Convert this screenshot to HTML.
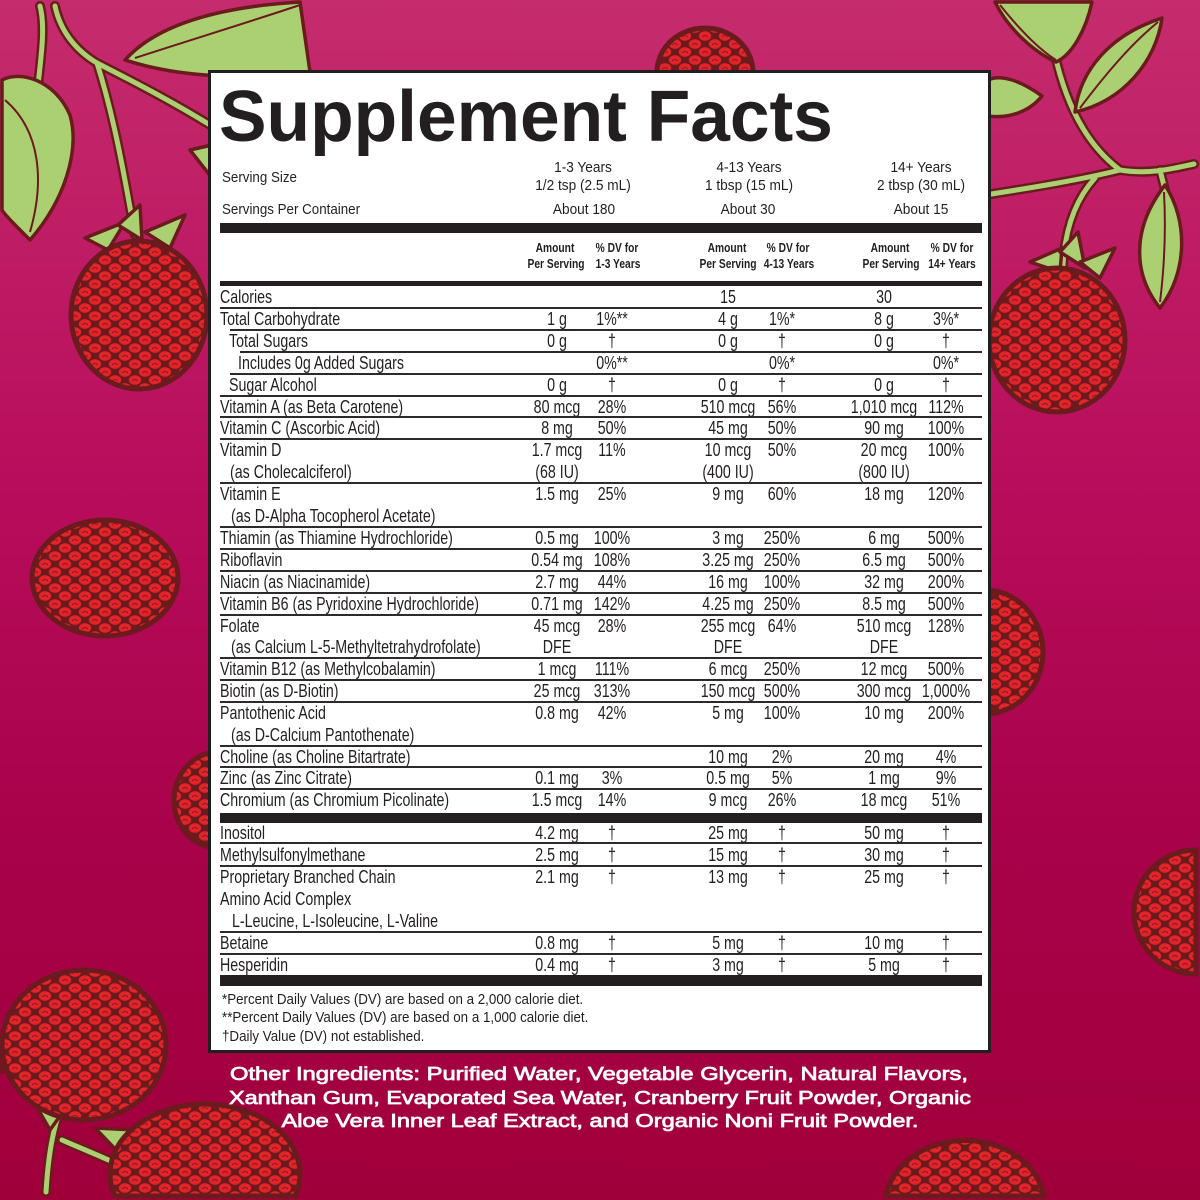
<!DOCTYPE html>
<html><head><meta charset="utf-8">
<style>
html,body{margin:0;padding:0;width:1200px;height:1200px;overflow:hidden;}
#wrap{position:relative;width:1200px;height:1200px;overflow:hidden;background:#b30a57;}
#bgsvg{position:absolute;left:0;top:0;overflow:hidden;display:block;}
#panel{position:absolute;left:208px;top:70px;width:783px;height:983px;box-sizing:border-box;border:3px solid #231f20;background:#fff;}
.t{position:absolute;font-family:"Liberation Sans",Arial,sans-serif;font-size:18px;line-height:22px;color:#231f20;white-space:nowrap;}
.L{transform-origin:0 50%;transform:scaleX(.79);}
.C{width:160px;margin-left:-80px;text-align:center;transform:scaleX(.79);}
.a1{left:557px}.d1{left:612px}.a2{left:728px}.d2{left:782px}.a3{left:884px}.d3{left:946px}
.h{font-size:15px;line-height:18px;}
.hL{transform-origin:0 50%;transform:scaleX(.89);}
.hC{width:200px;margin-left:-100px;text-align:center;transform:scaleX(.91);}
.b{font-weight:bold;font-size:12.5px;line-height:15px;width:120px;margin-left:-60px;text-align:center;transform:scaleX(.82);}
.ln{position:absolute;height:2px;background:#2e2a2b;}
.bar{position:absolute;left:220px;width:762px;background:#231f20;}
.title{position:absolute;left:219px;top:81px;font-family:"Liberation Sans",Arial,sans-serif;font-weight:bold;font-size:72px;line-height:72px;color:#231f20;white-space:nowrap;transform-origin:0 50%;transform:scaleX(.99);}
</style></head>
<body>
<div id="wrap">
<svg id="bgsvg" width="1200" height="1200" viewBox="0 0 1200 1200" xmlns="http://www.w3.org/2000/svg">
<defs>
<linearGradient id="bg" x1="0" y1="0" x2="0" y2="1">
<stop offset="0" stop-color="#c52c6d"/>
<stop offset="0.4" stop-color="#b80d5c"/>
<stop offset="0.7" stop-color="#a8024a"/>
<stop offset="1" stop-color="#a0003a"/>
</linearGradient>
<pattern id="dr" width="20" height="16" patternUnits="userSpaceOnUse">
<rect width="20" height="16" fill="#6e1a1d"/>
<g fill="#e3242b" stroke="#6e1a1d" stroke-width="1.3">
<ellipse cx="5" cy="4" rx="6.8" ry="5.4"/>
<ellipse cx="25" cy="4" rx="6.8" ry="5.4"/>
<ellipse cx="-15" cy="4" rx="6.8" ry="5.4"/>
<ellipse cx="15" cy="12" rx="6.8" ry="5.4"/>
<ellipse cx="-5" cy="12" rx="6.8" ry="5.4"/>
<ellipse cx="15" cy="-4" rx="6.8" ry="5.4"/>
<ellipse cx="-5" cy="-4" rx="6.8" ry="5.4"/>
<ellipse cx="5" cy="20" rx="6.8" ry="5.4"/>
<ellipse cx="25" cy="20" rx="6.8" ry="5.4"/>
</g>
<path d="M2 5 Q5 2 8 5 M12 13 Q15 10 18 13" stroke="#8a1a1e" stroke-width="1" fill="none"/>
</pattern>
</defs>
<rect width="1200" height="1200" fill="url(#bg)"/>

<g stroke="#6b1b1d" stroke-width="10" fill="none" stroke-linecap="round">
<path d="M55 6 C60 30 75 50 97 63 C115 120 125 180 135 235"/>
<path d="M97 63 C130 80 170 100 215 128"/>
<path d="M40 6 C45 25 42 50 38 85"/>
<path d="M1050 30 C1060 90 1080 140 1120 170 C1150 175 1175 168 1194 164"/>
<path d="M1120 170 C1080 180 1030 188 985 195"/>
<path d="M1095 178 C1075 200 1065 230 1063 265"/>
<path d="M1160 170 L1165 190"/>
<path d="M46 1192 C48 1160 52 1130 62 1105"/>
<path d="M62 1140 C85 1150 110 1160 130 1170"/>
</g>
<g stroke="#abd072" stroke-width="5" fill="none" stroke-linecap="round">
<path d="M55 6 C60 30 75 50 97 63 C115 120 125 180 135 235"/>
<path d="M97 63 C130 80 170 100 215 128"/>
<path d="M40 6 C45 25 42 50 38 85"/>
<path d="M1050 30 C1060 90 1080 140 1120 170 C1150 175 1175 168 1194 164"/>
<path d="M1120 170 C1080 180 1030 188 985 195"/>
<path d="M1095 178 C1075 200 1065 230 1063 265"/>
<path d="M1160 170 L1165 190"/>
<path d="M46 1192 C48 1160 52 1130 62 1105"/>
<path d="M62 1140 C85 1150 110 1160 130 1170"/>
</g>

<g fill="#abd072" stroke="#6b1b1d" stroke-width="3.5" stroke-linejoin="round">
<path d="M2 80 C20 70 55 80 70 115 C80 150 65 200 30 240 C15 225 5 215 2 210 Z"/>
<path d="M125 60 C150 32 200 8 300 2 L310 72 C250 80 180 78 125 60 Z"/>
<path d="M995 2 L1092 2 C1086 30 1072 55 1056 62 C1030 50 1006 25 995 2 Z"/>
<path d="M1075 112 C1080 70 1110 35 1162 18 C1156 62 1122 102 1075 112 Z"/>
<path d="M1042 96 C1020 80 1000 74 988 80 L988 116 C1010 119 1030 111 1042 96 Z"/>
<path d="M1165 185 C1188 220 1188 272 1160 308 C1134 276 1130 230 1165 185 Z"/>
<path d="M190 150 L212 145 L212 178 Z"/>
<path d="M85 238 L125 222 L108 250 Z"/>
<path d="M118 225 L140 205 L142 240 Z"/>
<path d="M145 232 L185 215 L170 248 Z"/>
<path d="M1030 262 L1062 248 L1060 272 Z"/>
<path d="M1060 252 L1078 232 L1085 268 Z"/>
<path d="M1080 262 L1115 248 L1100 278 Z"/>
<path d="M2 1035 L48 1058 L2 1072 Z"/>
<path d="M30 1095 L70 1102 L50 1130 Z"/>
<path d="M95 1128 L135 1130 L118 1152 Z"/>
</g>
<g stroke="#6b1b1d" stroke-width="2" fill="none">
<path d="M5 100 C40 130 45 180 30 232"/>
<path d="M135 58 C190 40 240 25 300 5"/>
<path d="M1080 108 C1105 75 1130 45 1158 22"/>
<path d="M1164 192 C1166 230 1164 270 1160 302"/>
<path d="M1000 5 C1020 30 1040 50 1056 60"/>
</g>

<g fill="url(#dr)" stroke="#6b1b1d" stroke-width="5">
<ellipse cx="139" cy="315" rx="68" ry="74"/>
<ellipse cx="705" cy="72" rx="48" ry="44"/>
<ellipse cx="105" cy="578" rx="73" ry="58"/>
<ellipse cx="218" cy="800" rx="44" ry="48"/>
<ellipse cx="84" cy="1045" rx="82" ry="75"/>
<path d="M114.8 1196 A95 70 0 1 1 295.2 1196 Z"/>
<ellipse cx="1057" cy="340" rx="68" ry="72"/>
<ellipse cx="985" cy="652" rx="58" ry="62"/>
<path d="M1196 850 A62 62 0 1 0 1196 974 Z"/>
<path d="M886 1196 A80 66 0 0 1 1044 1196 Z"/>
</g>

<g font-family="'Liberation Sans', Arial, sans-serif" font-weight="normal" font-size="18" fill="#ffffff" stroke="#ffffff" stroke-width="0.7" text-anchor="middle">
<text x="599" y="1080" textLength="738" lengthAdjust="spacingAndGlyphs">Other Ingredients: Purified Water, Vegetable Glycerin, Natural Flavors,</text>
<text x="600" y="1104" textLength="742" lengthAdjust="spacingAndGlyphs">Xanthan Gum, Evaporated Sea Water, Cranberry Fruit Powder, Organic</text>
<text x="600" y="1127" textLength="637" lengthAdjust="spacingAndGlyphs">Aloe Vera Inner Leaf Extract, and Organic Noni Fruit Powder.</text>
</g>
</svg>

<div id="panel"></div>
<div class="title">Supplement Facts</div>

<div class="t h hL" style="left:222px;top:169px">Serving Size</div>
<div class="t h hL" style="left:222px;top:201px">Servings Per Container</div>
<div class="t h hC" style="left:583px;top:159px">1-3 Years</div>
<div class="t h hC" style="left:583px;top:177px">1/2 tsp (2.5 mL)</div>
<div class="t h hC" style="left:584px;top:201px">About 180</div>
<div class="t h hC" style="left:749px;top:159px">4-13 Years</div>
<div class="t h hC" style="left:749px;top:177px">1 tbsp (15 mL)</div>
<div class="t h hC" style="left:748px;top:201px">About 30</div>
<div class="t h hC" style="left:921px;top:159px">14+ Years</div>
<div class="t h hC" style="left:921px;top:177px">2 tbsp (30 mL)</div>
<div class="t h hC" style="left:921px;top:201px">About 15</div>

<div class="bar" style="top:223px;height:10px"></div>

<div class="t b" style="left:555px;top:241px">Amount</div>
<div class="t b" style="left:556px;top:257px">Per Serving</div>
<div class="t b" style="left:617px;top:241px">% DV for</div>
<div class="t b" style="left:618px;top:257px">1-3 Years</div>
<div class="t b" style="left:727px;top:241px">Amount</div>
<div class="t b" style="left:728px;top:257px">Per Serving</div>
<div class="t b" style="left:788px;top:241px">% DV for</div>
<div class="t b" style="left:789px;top:257px">4-13 Years</div>
<div class="t b" style="left:890px;top:241px">Amount</div>
<div class="t b" style="left:891px;top:257px">Per Serving</div>
<div class="t b" style="left:952px;top:241px">% DV for</div>
<div class="t b" style="left:952px;top:257px">14+ Years</div>

<div class="bar" style="top:281px;height:5px"></div>

<div class="ln" style="top:307px;left:220px;width:762px"></div>
<div class="ln" style="top:329px;left:230px;width:752px"></div>
<div class="ln" style="top:351px;left:240px;width:742px"></div>
<div class="ln" style="top:373px;left:230px;width:752px"></div>
<div class="ln" style="top:395px;left:220px;width:762px"></div>
<div class="ln" style="top:416px;left:220px;width:762px"></div>
<div class="ln" style="top:438px;left:220px;width:762px"></div>
<div class="ln" style="top:482px;left:220px;width:762px"></div>
<div class="ln" style="top:526px;left:220px;width:762px"></div>
<div class="ln" style="top:548px;left:220px;width:762px"></div>
<div class="ln" style="top:570px;left:220px;width:762px"></div>
<div class="ln" style="top:592px;left:220px;width:762px"></div>
<div class="ln" style="top:614px;left:220px;width:762px"></div>
<div class="ln" style="top:657px;left:220px;width:762px"></div>
<div class="ln" style="top:679px;left:220px;width:762px"></div>
<div class="ln" style="top:701px;left:220px;width:762px"></div>
<div class="ln" style="top:745px;left:220px;width:762px"></div>
<div class="ln" style="top:766px;left:220px;width:762px"></div>
<div class="ln" style="top:788px;left:220px;width:762px"></div>
<div class="bar" style="top:813px;height:10px"></div>
<div class="ln" style="top:842px;left:220px;width:762px"></div>
<div class="ln" style="top:865px;left:220px;width:762px"></div>
<div class="ln" style="top:931px;left:220px;width:762px"></div>
<div class="ln" style="top:953px;left:220px;width:762px"></div>
<div class="bar" style="top:975px;height:11px"></div>

<div class="t L" style="left:220px;top:286px">Calories</div>
<div class="t C a2" style="top:286px">15</div>
<div class="t C a3" style="top:286px">30</div>

<div class="t L" style="left:220px;top:308px">Total Carbohydrate</div>
<div class="t C a1" style="top:308px">1 g</div><div class="t C d1" style="top:308px">1%**</div>
<div class="t C a2" style="top:308px">4 g</div><div class="t C d2" style="top:308px">1%*</div>
<div class="t C a3" style="top:308px">8 g</div><div class="t C d3" style="top:308px">3%*</div>

<div class="t L" style="left:229px;top:330px">Total Sugars</div>
<div class="t C a1" style="top:330px">0 g</div><div class="t C d1" style="top:330px">†</div>
<div class="t C a2" style="top:330px">0 g</div><div class="t C d2" style="top:330px">†</div>
<div class="t C a3" style="top:330px">0 g</div><div class="t C d3" style="top:330px">†</div>

<div class="t L" style="left:238px;top:352px">Includes 0g Added Sugars</div>
<div class="t C d1" style="top:352px">0%**</div>
<div class="t C d2" style="top:352px">0%*</div>
<div class="t C d3" style="top:352px">0%*</div>

<div class="t L" style="left:229px;top:374px">Sugar Alcohol</div>
<div class="t C a1" style="top:374px">0 g</div><div class="t C d1" style="top:374px">†</div>
<div class="t C a2" style="top:374px">0 g</div><div class="t C d2" style="top:374px">†</div>
<div class="t C a3" style="top:374px">0 g</div><div class="t C d3" style="top:374px">†</div>

<div class="t L" style="left:220px;top:396px">Vitamin A (as Beta Carotene)</div>
<div class="t C a1" style="top:396px">80 mcg</div><div class="t C d1" style="top:396px">28%</div>
<div class="t C a2" style="top:396px">510 mcg</div><div class="t C d2" style="top:396px">56%</div>
<div class="t C a3" style="top:396px">1,010 mcg</div><div class="t C d3" style="top:396px">112%</div>

<div class="t L" style="left:220px;top:417px">Vitamin C (Ascorbic Acid)</div>
<div class="t C a1" style="top:417px">8 mg</div><div class="t C d1" style="top:417px">50%</div>
<div class="t C a2" style="top:417px">45 mg</div><div class="t C d2" style="top:417px">50%</div>
<div class="t C a3" style="top:417px">90 mg</div><div class="t C d3" style="top:417px">100%</div>

<div class="t L" style="left:220px;top:439px">Vitamin D</div>
<div class="t L" style="left:230px;top:461px">(as Cholecalciferol)</div>
<div class="t C a1" style="top:439px">1.7 mcg</div><div class="t C d1" style="top:439px">11%</div>
<div class="t C a2" style="top:439px">10 mcg</div><div class="t C d2" style="top:439px">50%</div>
<div class="t C a3" style="top:439px">20 mcg</div><div class="t C d3" style="top:439px">100%</div>
<div class="t C a1" style="top:461px">(68 IU)</div>
<div class="t C a2" style="top:461px">(400 IU)</div>
<div class="t C a3" style="top:461px">(800 IU)</div>

<div class="t L" style="left:220px;top:483px">Vitamin E</div>
<div class="t L" style="left:231px;top:505px">(as D-Alpha Tocopherol Acetate)</div>
<div class="t C a1" style="top:483px">1.5 mg</div><div class="t C d1" style="top:483px">25%</div>
<div class="t C a2" style="top:483px">9 mg</div><div class="t C d2" style="top:483px">60%</div>
<div class="t C a3" style="top:483px">18 mg</div><div class="t C d3" style="top:483px">120%</div>

<div class="t L" style="left:220px;top:527px">Thiamin (as Thiamine Hydrochloride)</div>
<div class="t C a1" style="top:527px">0.5 mg</div><div class="t C d1" style="top:527px">100%</div>
<div class="t C a2" style="top:527px">3 mg</div><div class="t C d2" style="top:527px">250%</div>
<div class="t C a3" style="top:527px">6 mg</div><div class="t C d3" style="top:527px">500%</div>

<div class="t L" style="left:220px;top:549px">Riboflavin</div>
<div class="t C a1" style="top:549px">0.54 mg</div><div class="t C d1" style="top:549px">108%</div>
<div class="t C a2" style="top:549px">3.25 mg</div><div class="t C d2" style="top:549px">250%</div>
<div class="t C a3" style="top:549px">6.5 mg</div><div class="t C d3" style="top:549px">500%</div>

<div class="t L" style="left:220px;top:571px">Niacin (as Niacinamide)</div>
<div class="t C a1" style="top:571px">2.7 mg</div><div class="t C d1" style="top:571px">44%</div>
<div class="t C a2" style="top:571px">16 mg</div><div class="t C d2" style="top:571px">100%</div>
<div class="t C a3" style="top:571px">32 mg</div><div class="t C d3" style="top:571px">200%</div>

<div class="t L" style="left:220px;top:593px">Vitamin B6 (as Pyridoxine Hydrochloride)</div>
<div class="t C a1" style="top:593px">0.71 mg</div><div class="t C d1" style="top:593px">142%</div>
<div class="t C a2" style="top:593px">4.25 mg</div><div class="t C d2" style="top:593px">250%</div>
<div class="t C a3" style="top:593px">8.5 mg</div><div class="t C d3" style="top:593px">500%</div>

<div class="t L" style="left:220px;top:615px">Folate</div>
<div class="t L" style="left:231px;top:636px">(as Calcium L-5-Methyltetrahydrofolate)</div>
<div class="t C a1" style="top:615px">45 mcg</div><div class="t C d1" style="top:615px">28%</div>
<div class="t C a2" style="top:615px">255 mcg</div><div class="t C d2" style="top:615px">64%</div>
<div class="t C a3" style="top:615px">510 mcg</div><div class="t C d3" style="top:615px">128%</div>
<div class="t C a1" style="top:636px">DFE</div>
<div class="t C a2" style="top:636px">DFE</div>
<div class="t C a3" style="top:636px">DFE</div>

<div class="t L" style="left:220px;top:658px">Vitamin B12 (as Methylcobalamin)</div>
<div class="t C a1" style="top:658px">1 mcg</div><div class="t C d1" style="top:658px">111%</div>
<div class="t C a2" style="top:658px">6 mcg</div><div class="t C d2" style="top:658px">250%</div>
<div class="t C a3" style="top:658px">12 mcg</div><div class="t C d3" style="top:658px">500%</div>

<div class="t L" style="left:220px;top:680px">Biotin (as D-Biotin)</div>
<div class="t C a1" style="top:680px">25 mcg</div><div class="t C d1" style="top:680px">313%</div>
<div class="t C a2" style="top:680px">150 mcg</div><div class="t C d2" style="top:680px">500%</div>
<div class="t C a3" style="top:680px">300 mcg</div><div class="t C d3" style="top:680px">1,000%</div>

<div class="t L" style="left:220px;top:702px">Pantothenic Acid</div>
<div class="t L" style="left:231px;top:724px">(as D-Calcium Pantothenate)</div>
<div class="t C a1" style="top:702px">0.8 mg</div><div class="t C d1" style="top:702px">42%</div>
<div class="t C a2" style="top:702px">5 mg</div><div class="t C d2" style="top:702px">100%</div>
<div class="t C a3" style="top:702px">10 mg</div><div class="t C d3" style="top:702px">200%</div>

<div class="t L" style="left:220px;top:746px">Choline (as Choline Bitartrate)</div>
<div class="t C a2" style="top:746px">10 mg</div><div class="t C d2" style="top:746px">2%</div>
<div class="t C a3" style="top:746px">20 mg</div><div class="t C d3" style="top:746px">4%</div>

<div class="t L" style="left:220px;top:767px">Zinc (as Zinc Citrate)</div>
<div class="t C a1" style="top:767px">0.1 mg</div><div class="t C d1" style="top:767px">3%</div>
<div class="t C a2" style="top:767px">0.5 mg</div><div class="t C d2" style="top:767px">5%</div>
<div class="t C a3" style="top:767px">1 mg</div><div class="t C d3" style="top:767px">9%</div>

<div class="t L" style="left:220px;top:789px">Chromium (as Chromium Picolinate)</div>
<div class="t C a1" style="top:789px">1.5 mcg</div><div class="t C d1" style="top:789px">14%</div>
<div class="t C a2" style="top:789px">9 mcg</div><div class="t C d2" style="top:789px">26%</div>
<div class="t C a3" style="top:789px">18 mcg</div><div class="t C d3" style="top:789px">51%</div>

<div class="t L" style="left:220px;top:822px">Inositol</div>
<div class="t C a1" style="top:822px">4.2 mg</div><div class="t C d1" style="top:822px">†</div>
<div class="t C a2" style="top:822px">25 mg</div><div class="t C d2" style="top:822px">†</div>
<div class="t C a3" style="top:822px">50 mg</div><div class="t C d3" style="top:822px">†</div>

<div class="t L" style="left:220px;top:844px">Methylsulfonylmethane</div>
<div class="t C a1" style="top:844px">2.5 mg</div><div class="t C d1" style="top:844px">†</div>
<div class="t C a2" style="top:844px">15 mg</div><div class="t C d2" style="top:844px">†</div>
<div class="t C a3" style="top:844px">30 mg</div><div class="t C d3" style="top:844px">†</div>

<div class="t L" style="left:220px;top:866px">Proprietary Branched Chain</div>
<div class="t L" style="left:220px;top:888px">Amino Acid Complex</div>
<div class="t L" style="left:232px;top:910px">L-Leucine, L-Isoleucine, L-Valine</div>
<div class="t C a1" style="top:866px">2.1 mg</div><div class="t C d1" style="top:866px">†</div>
<div class="t C a2" style="top:866px">13 mg</div><div class="t C d2" style="top:866px">†</div>
<div class="t C a3" style="top:866px">25 mg</div><div class="t C d3" style="top:866px">†</div>

<div class="t L" style="left:220px;top:932px">Betaine</div>
<div class="t C a1" style="top:932px">0.8 mg</div><div class="t C d1" style="top:932px">†</div>
<div class="t C a2" style="top:932px">5 mg</div><div class="t C d2" style="top:932px">†</div>
<div class="t C a3" style="top:932px">10 mg</div><div class="t C d3" style="top:932px">†</div>

<div class="t L" style="left:220px;top:954px">Hesperidin</div>
<div class="t C a1" style="top:954px">0.4 mg</div><div class="t C d1" style="top:954px">†</div>
<div class="t C a2" style="top:954px">3 mg</div><div class="t C d2" style="top:954px">†</div>
<div class="t C a3" style="top:954px">5 mg</div><div class="t C d3" style="top:954px">†</div>

<div class="t h hL" style="left:222px;top:991px">*Percent Daily Values (DV) are based on a 2,000 calorie diet.</div>
<div class="t h hL" style="left:222px;top:1009px">**Percent Daily Values (DV) are based on a 1,000 calorie diet.</div>
<div class="t h hL" style="left:222px;top:1028px">†Daily Value (DV) not established.</div>
</div>
</body></html>
